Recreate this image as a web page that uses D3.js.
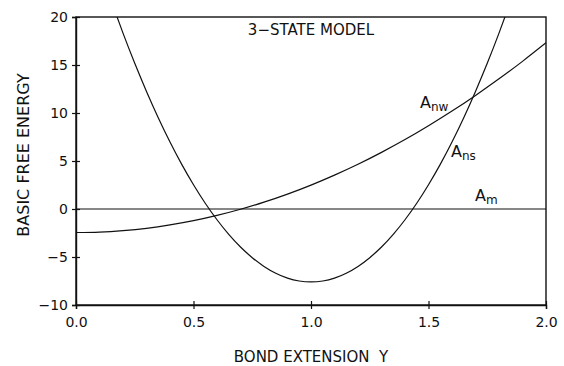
<!DOCTYPE html>
<html>
<head>
<meta charset="utf-8">
<script src="https://cdn.jsdelivr.net/npm/d3@7"></script>
<style>
  html, body { margin: 0; padding: 0; background: #fff; }
  svg { display: block; }
  text { font-family: "DejaVu Sans", sans-serif; fill: #111; }
</style>
</head>
<body>
<svg id="chart" width="564" height="366"></svg>
<script>
// Bond extension samples and free energies of the three states
const extA_nw = [0.0, 0.1, 0.2, 0.3, 0.4, 0.5, 0.6, 0.7, 0.8, 0.9, 1.0,
                 1.1, 1.2, 1.3, 1.4, 1.5, 1.6, 1.7, 1.8, 1.9, 2.0];
const valA_nw = [-2.45, -2.40, -2.25, -2.01, -1.66, -1.22, -0.67, -0.03, 0.71, 1.55, 2.49,
                 3.53, 4.66, 5.90, 7.23, 8.67, 10.20, 11.83, 13.56, 15.38, 17.31];

const extA_ns = [0.15, 0.20, 0.25, 0.30, 0.35, 0.40, 0.45, 0.50, 0.55, 0.60, 0.65, 0.70,
                 0.75, 0.80, 0.85, 0.90, 0.95, 1.00, 1.05, 1.10, 1.15, 1.20, 1.25, 1.30,
                 1.35, 1.40, 1.45, 1.50, 1.55, 1.60, 1.65, 1.70, 1.75, 1.80, 1.85];
const valA_ns = [21.66, 18.32, 15.18, 12.25, 9.51, 6.98, 4.65, 2.53, 0.60, -1.12, -2.64, -3.96,
                 -5.07, -5.98, -6.69, -7.20, -7.50, -7.60, -7.50, -7.20, -6.69, -5.98, -5.07, -3.96,
                 -2.64, -1.12, 0.60, 2.53, 4.65, 6.98, 9.51, 12.25, 15.18, 18.32, 21.66];

const extA_m = [0.0, 2.0];
const valA_m = [0, 0];

const xTicks = [0.0, 0.5, 1.0, 1.5, 2.0];
const yTicks = [-10, -5, 0, 5, 10, 15, 20];

const svg = d3.select("#chart");
const margin = { top: 17, right: 18, bottom: 61, left: 76 };
const W = 564, H = 366;
const iw = W - margin.left - margin.right;
const ih = H - margin.top - margin.bottom;

const x = d3.scaleLinear().domain([0, 2]).range([0, iw]);
const y = d3.scaleLinear().domain([-10, 20]).range([ih, 0]);

const g = svg.append("g").attr("transform", `translate(${margin.left},${margin.top})`);

g.append("clipPath").attr("id", "plotclip")
  .append("rect").attr("width", iw).attr("height", ih);

// frame
g.append("rect").attr("width", iw).attr("height", ih)
  .attr("fill", "none").attr("stroke", "#111").attr("stroke-width", 1.4);

// axes with ticks crossing the frame line
const xAxis = g.append("g").attr("transform", `translate(0,${ih})`)
  .call(d3.axisBottom(x).tickValues(xTicks).tickFormat(d3.format(".1f"))
        .tickSize(4).tickPadding(8));
xAxis.selectAll(".tick line").attr("y1", -4);

const yAxis = g.append("g")
  .call(d3.axisLeft(y).tickValues(yTicks).tickFormat(d3.format("d"))
        .tickSize(4).tickPadding(4));
yAxis.selectAll(".tick line").attr("x1", 4);

[xAxis, yAxis].forEach(a => {
  a.select(".domain").attr("stroke", "#111").attr("stroke-width", 1.4);
  a.selectAll(".tick line").attr("stroke", "#111").attr("stroke-width", 1.2);
  a.selectAll(".tick text").attr("font-size", 14).attr("font-family", "DejaVu Sans").attr("fill", "#111");
});

// curves
const curves = [
  { xs: extA_m, ys: valA_m },
  { xs: extA_nw, ys: valA_nw },
  { xs: extA_ns, ys: valA_ns }
];
const line = d3.line().x(d => x(d[0])).y(d => y(d[1])).curve(d3.curveNatural);
const plot = g.append("g").attr("clip-path", "url(#plotclip)");
curves.forEach(c => {
  plot.append("path")
    .datum(c.xs.map((v, i) => [v, c.ys[i]]))
    .attr("d", line)
    .attr("fill", "none")
    .attr("stroke", "#111")
    .attr("stroke-width", 1.2);
});

// curve labels
function curveLabel(px, py, main, sub) {
  const t = g.append("text").attr("x", px).attr("y", py).attr("font-size", 16);
  t.append("tspan").text(main);
  t.append("tspan").attr("font-size", 12).attr("dy", 3).text(sub);
}
curveLabel(x(1.464), y(10.5), "A", "nw");
curveLabel(x(1.596), y(5.4), "A", "ns");
curveLabel(x(1.698), y(0.8), "A", "m");

// title inside the plot
g.append("text").attr("x", iw / 2).attr("y", 18)
  .attr("text-anchor", "middle").attr("font-size", 15)
  .text("3\u2212STATE MODEL");

// axis titles
svg.append("text")
  .attr("x", margin.left + iw / 2).attr("y", 362)
  .attr("text-anchor", "middle").attr("font-size", 15)
  .attr("xml:space", "preserve")
  .text("BOND EXTENSION  Y");

svg.append("text")
  .attr("transform", `translate(29,155) rotate(-90)`)
  .attr("text-anchor", "middle").attr("font-size", 16)
  .text("BASIC FREE ENERGY");
</script>
</body>
</html>
